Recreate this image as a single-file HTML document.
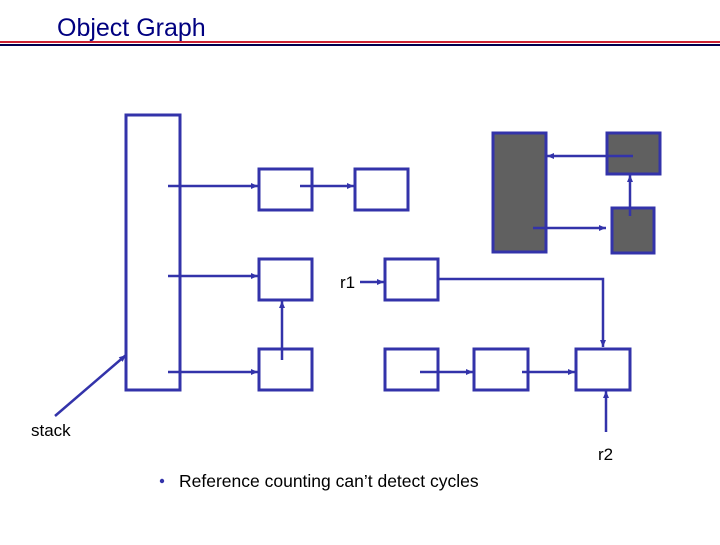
<!DOCTYPE html>
<html><head><style>body{margin:0;width:720px;height:540px;background:#fff;overflow:hidden}</style></head>
<body>
<svg width="720" height="540" xmlns="http://www.w3.org/2000/svg" font-family="Liberation Sans, sans-serif">
<defs><marker id="a" markerWidth="8" markerHeight="8" refX="7" refY="4" orient="auto" markerUnits="userSpaceOnUse"><path d="M0,1 L7,4 L0,7 z" fill="#3333aa"/></marker></defs>
<text x="57" y="36" font-size="25" fill="#000080">Object Graph</text>
<rect x="0" y="41" width="720" height="2" fill="#cc2233"/>
<rect x="0" y="44" width="720" height="2" fill="#000050"/>
<g fill="none" stroke="#3333aa" stroke-width="3">
<rect x="126" y="115" width="54" height="275"/>
<rect x="259" y="169" width="53" height="41"/>
<rect x="355" y="169" width="53" height="41"/>
<rect x="259" y="259" width="53" height="41"/>
<rect x="385" y="259" width="53" height="41"/>
<rect x="259" y="349" width="53" height="41"/>
<rect x="385" y="349" width="53" height="41"/>
<rect x="474" y="349" width="54" height="41"/>
<rect x="576" y="349" width="54" height="41"/>
<rect x="493" y="133" width="53" height="119" fill="#606060"/>
<rect x="607" y="133" width="53" height="41" fill="#606060"/>
<rect x="612" y="208" width="42" height="45" fill="#606060"/>
</g>
<g stroke="#3333aa" stroke-width="2.5" fill="none" marker-end="url(#a)">
<line x1="168" y1="186" x2="258" y2="186"/>
<line x1="300" y1="186" x2="354" y2="186"/>
<line x1="168" y1="276" x2="258" y2="276"/>
<line x1="168" y1="372" x2="258" y2="372"/>
<line x1="282" y1="360" x2="282" y2="301"/>
<line x1="360" y1="282" x2="384" y2="282"/>
<polyline points="439,279 603,279 603,347"/>
<line x1="420" y1="372" x2="473" y2="372"/>
<line x1="522" y1="372" x2="575" y2="372"/>
<line x1="606" y1="432" x2="606" y2="391"/>
<line x1="633" y1="156" x2="547" y2="156"/>
<line x1="533" y1="228" x2="606" y2="228"/>
<line x1="630" y1="216" x2="630" y2="175"/>
<line x1="55" y1="416" x2="126" y2="355"/>
</g>
<text x="340" y="288" font-size="17" fill="#000">r1</text>
<text x="31" y="436" font-size="17" fill="#000">stack</text>
<text x="598" y="460" font-size="17" fill="#000">r2</text>
<circle cx="162" cy="481" r="2.2" fill="#3333aa"/>
<text x="179" y="487" font-size="17.5" fill="#000">Reference counting can’t detect cycles</text>
</svg>
</body></html>
